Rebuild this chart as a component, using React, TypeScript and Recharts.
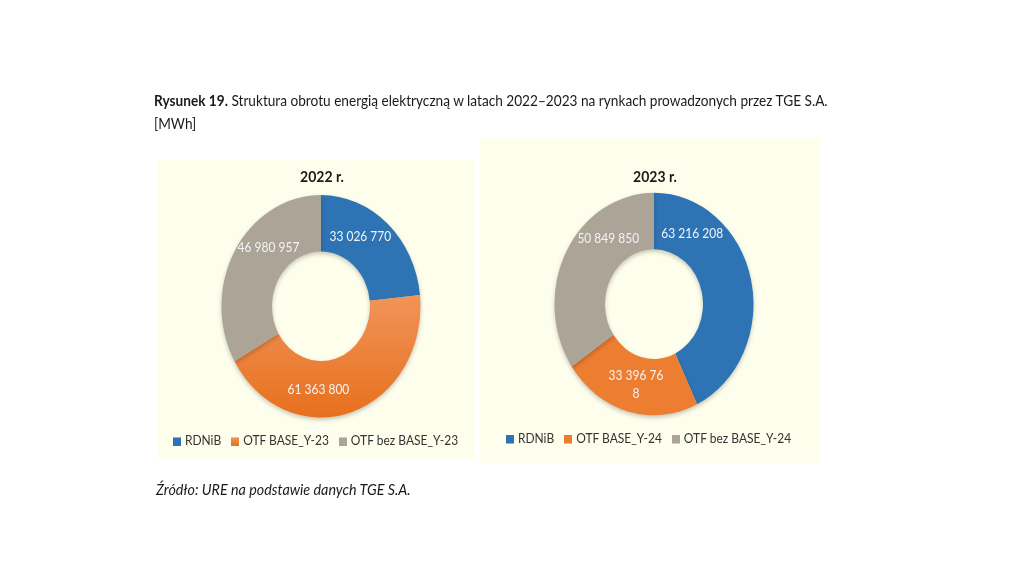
import { PieChart, Pie, Cell, Legend } from "recharts";

// wartości [MWh]
const names2022 = ["RDNiB", "OTF BASE_Y-23", "OTF bez BASE_Y-23"];
const values2022 = [33026770, 61363800, 46980957];
const names2023 = ["RDNiB", "OTF BASE_Y-24", "OTF bez BASE_Y-24"];
const values2023 = [63216208, 33396768, 50849850];

const titleBold = "Rysunek 19.";
const titleRest =
  " Struktura obrotu energią elektryczną w latach 2022–2023 na rynkach prowadzonych przez TGE S.A.";
const titleUnit = "[MWh]";
const sourceText = "Źródło: URE na podstawie danych TGE S.A.";

const BLUE = "#2E74B5";
const ORANGE = "#ED7D31";
const GREY = "#ACA497";
const PANEL = "#FEFEEC";
const STRETCH = 1.118; // the original page is stretched vertically

// label placement inside the ring (degrees, counter-clockwise from 3 o'clock)
const labelAngle2022 = [58, -92, 135];
const labelAngle2023 = [59, -104, 128];
const labelWrap2022 = [0, 0, 0];
const labelWrap2023 = [0, 9, 0];

const RAD = Math.PI / 180;
const fmt = (v: number) => v.toString().replace(/\B(?=(\d{3})+(?!\d))/g, " ");

function makeLabel(angles: number[], wraps: number[]) {
  return (p: any) => {
    const r = (p.innerRadius + p.outerRadius) / 2;
    const a = angles[p.index];
    const x = p.cx + r * Math.cos(-a * RAD);
    const y = p.cy + r * Math.sin(-a * RAD);
    const txt = fmt(p.value);
    const w = wraps[p.index];
    const lines = w ? [txt.slice(0, w), txt.slice(w)] : [txt];
    const lh = 16;
    const y0 = y - ((lines.length - 1) * lh) / 2 + 4.3;
    return (
      <text textAnchor="middle" fill="#F4F4F4" fontSize={12}>
        {lines.map((l, i) => (
          <tspan key={i} x={x} y={y0 + i * lh}>
            {l}
          </tspan>
        ))}
      </text>
    );
  };
}

type DonutProps = {
  names: string[];
  values: number[];
  colors: string[];
  angles: number[];
  wraps: number[];
  width: number;
  height: number;
  cy: number;
  legendTop: number;
  gradientId?: string;
};

function Donut({ names, values, colors, angles, wraps, width, height, cy, legendTop, gradientId }: DonutProps) {
  const data = names.map((n, i) => ({ name: n, value: values[i] }));
  return (
    <PieChart width={width} height={height} margin={{ top: 0, right: 0, bottom: 0, left: 0 }}>
      <defs>
        <linearGradient id="orangeGrad" x1="0" y1="0" x2="0" y2="1">
          <stop offset="0%" stopColor="#F19459" />
          <stop offset="100%" stopColor="#E7701D" />
        </linearGradient>
      </defs>
      <Pie
        data={data}
        dataKey="value"
        nameKey="name"
        cx={width / 2}
        cy={cy}
        innerRadius={49}
        outerRadius={99.5}
        startAngle={90}
        endAngle={-270}
        stroke="none"
        labelLine={false}
        label={makeLabel(angles, wraps)}
        isAnimationActive={false}
        style={{ filter: "drop-shadow(0px 2px 2px rgba(0,0,0,0.22))" }}
      >
        {data.map((d, i) => (
          <Cell key={d.name} fill={gradientId && i === 1 ? `url(#${gradientId})` : colors[i]} />
        ))}
      </Pie>
      <Legend
        layout="horizontal"
        verticalAlign="middle"
        align="center"
        iconType="square"
        iconSize={8}
        itemSorter={(item: any) => names.indexOf(item.value)}
        wrapperStyle={{ top: legendTop, fontSize: 12, lineHeight: "18px" }}
        formatter={(v: any) => <span style={{ color: "#333" }}>{v}</span>}
      />
    </PieChart>
  );
}

export default function App() {
  const colors = [BLUE, ORANGE, GREY];
  return (
    <div
      style={{
        position: "fixed",
        left: 0,
        top: 0,
        width: 1024,
        height: 576 / STRETCH,
        background: "#fff",
        transform: `scaleY(${STRETCH})`,
        transformOrigin: "0 0",
        fontFamily: "Lato, 'Open Sans', sans-serif",
        color: "#1a1a1a",
      }}
    >
      <div style={{ position: "absolute", left: 154, top: 80, fontSize: 13.65, lineHeight: "20px", whiteSpace: "nowrap" }}>
        <b>{titleBold}</b>
        {titleRest}
        <br />
        {titleUnit}
      </div>

      {/* 2022 */}
      <div style={{ position: "absolute", left: 157, top: 143, width: 318, height: 267, background: PANEL }} />
      <div
        style={{
          position: "absolute",
          left: 272,
          width: 100,
          top: 148,
          textAlign: "center",
          fontWeight: 700,
          fontSize: 14,
          lineHeight: "20px",
        }}
      >
        2022 r.
      </div>
      <div style={{ position: "absolute", left: 155.5, top: 143 }}>
        <Donut
          names={names2022}
          values={values2022}
          colors={colors}
          angles={labelAngle2022}
          wraps={labelWrap2022}
          width={330}
          height={267}
          cy={131}
          legendTop={242}
          gradientId="orangeGrad"
        />
      </div>

      {/* 2023 */}
      <div style={{ position: "absolute", left: 480, top: 123, width: 340, height: 291, background: PANEL }} />
      <div
        style={{
          position: "absolute",
          left: 605,
          width: 100,
          top: 148,
          textAlign: "center",
          fontWeight: 700,
          fontSize: 14,
          lineHeight: "20px",
        }}
      >
        2023 r.
      </div>
      <div style={{ position: "absolute", left: 483.5, top: 123 }}>
        <Donut
          names={names2023}
          values={values2023}
          colors={colors}
          angles={labelAngle2023}
          wraps={labelWrap2023}
          width={340}
          height={291}
          cy={149}
          legendTop={260}
        />
      </div>

      <div
        style={{
          position: "absolute",
          left: 156,
          top: 428,
          fontSize: 14.3,
          lineHeight: "20px",
          fontStyle: "italic",
          whiteSpace: "nowrap",
        }}
      >
        {sourceText}
      </div>
    </div>
  );
}
